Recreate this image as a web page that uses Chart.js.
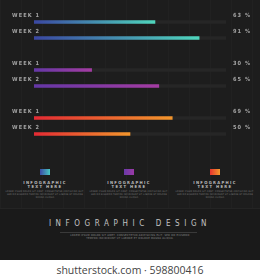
<!DOCTYPE html>
<html>
<head>
<meta charset="utf-8">
<script src="https://cdn.jsdelivr.net/npm/chart.js@4/dist/chart.umd.min.js"></script>
<style>
  html,body{margin:0;padding:0;}
  body{width:260px;height:280px;position:relative;overflow:hidden;background:#fff;font-family:"Liberation Sans Narrow","DejaVu Sans Condensed","Liberation Sans",sans-serif;}
  #dark{position:absolute;left:0;top:0;width:260px;height:260px;background:#1d1d1d;
    background-image:repeating-linear-gradient(90deg,rgba(255,255,255,0.018) 0 1px,transparent 1px 21px);}
  #chartBox{position:absolute;left:0;top:0;width:260px;height:150px;}
  .sw{position:absolute;top:169px;width:10px;height:6px;}
  .cap{position:absolute;width:80px;text-align:center;color:#b8b8b8;font-size:4.2px;line-height:3.8px;letter-spacing:1.3px;font-weight:bold;}
  .tiny{position:absolute;width:80px;text-align:center;color:#7a7a7a;font-size:2.3px;line-height:3px;letter-spacing:0.2px;}
  #sep{position:absolute;left:0;top:208px;width:260px;height:52px;background:#1a1a1a;border-top:1px solid #242424;}
  #title{position:absolute;left:0;top:219px;width:260px;text-align:center;color:#c2c2c2;font-size:8px;letter-spacing:4.6px;line-height:10px;}
  #tline{position:absolute;left:60px;top:232px;width:137px;height:1px;background:#3a3a3a;}
  #lorem{position:absolute;left:70px;top:234px;width:120px;text-align:center;color:#8a8a8a;font-size:2.7px;line-height:3.1px;letter-spacing:0.25px;}
  #footer{position:absolute;left:0;top:260px;width:260px;height:20px;background:#fff;text-align:center;font-family:"Open Sans","Noto Sans",sans-serif;font-size:10.5px;font-weight:400;line-height:21px;color:#444;}
</style>
</head>
<body>
<div id="dark"></div>
<div id="sep"></div>
<div id="chartBox"><canvas id="c"></canvas></div>

<div class="sw" style="left:40px;background:linear-gradient(90deg,#3b4ba6,#47c7c0);"></div>
<div class="sw" style="left:124px;background:linear-gradient(90deg,#6a3aa8,#9b3aa6);"></div>
<div class="sw" style="left:210px;background:linear-gradient(90deg,#e8342e,#f29a2c);"></div>

<div class="cap" style="left:5px;top:181px;">INFOGRAPHIC<br>TEXT HERE</div>
<div class="cap" style="left:89px;top:181px;">INFOGRAPHIC<br>TEXT HERE</div>
<div class="cap" style="left:175px;top:181px;">INFOGRAPHIC<br>TEXT HERE</div>

<div class="tiny" style="left:5px;top:190px;">LOREM IPSUM DOLOR SIT AMET, CONSECTETUR ADIPISCING ELIT, SED DO EIUSMOD TEMPOR INCIDIDUNT UT LABORE ET DOLORE MAGNA ALIQUA</div>
<div class="tiny" style="left:89px;top:190px;">LOREM IPSUM DOLOR SIT AMET, CONSECTETUR ADIPISCING ELIT, SED DO EIUSMOD TEMPOR INCIDIDUNT UT LABORE ET DOLORE MAGNA ALIQUA</div>
<div class="tiny" style="left:175px;top:190px;">LOREM IPSUM DOLOR SIT AMET, CONSECTETUR ADIPISCING ELIT, SED DO EIUSMOD TEMPOR INCIDIDUNT UT LABORE ET DOLORE MAGNA ALIQUA</div>

<div id="title">INFOGRAPHIC DESIGN</div>
<div id="tline"></div>
<div id="lorem">LOREM IPSUM DOLOR SIT AMET, CONSECTETUR ADIPISCING ELIT, SED DO EIUSMOD TEMPOR INCIDIDUNT UT LABORE ET DOLORE MAGNA ALIQUA.</div>
<div id="footer">shutterstock.com · 598800416</div>

<script>
// ---- data ----
const categories    = ['WEEK 1','WEEK 2','','WEEK 1','WEEK 2','','WEEK 1','WEEK 2'];
const values        = [63, 86, null, 30, 65, null, 72, 50];
const percentLabels = ['63 %','91 %','','30 %','65 %','','69 %','50 %'];
const trackMax      = [100, 100, null, 100, 100, null, 100, 100];
const groupOf       = [0, 0, null, 1, 1, null, 2, 2];

// ---- styles ----
const palette = [
  ['#3a47a2', '#4fd6bd'],
  ['#6437a6', '#a43ca2'],
  ['#e42a33', '#f3962c']
];

function barGradient(ctx) {
  const chart = ctx.chart;
  const i = ctx.dataIndex;
  const g = groupOf[i];
  if (g === null || g === undefined) return 'transparent';
  const xs = chart.scales && chart.scales.x;
  if (!xs || !chart.chartArea) return palette[g][0];
  const x0 = xs.getPixelForValue(0);
  const x1 = xs.getPixelForValue(values[i]);
  if (!isFinite(x0) || !isFinite(x1) || x1 <= x0) return palette[g][0];
  const grad = chart.ctx.createLinearGradient(x0, 0, x1, 0);
  grad.addColorStop(0, palette[g][0]);
  grad.addColorStop(1, palette[g][1]);
  return grad;
}

const labelPlugin = {
  id: 'rowLabels',
  afterDatasetsDraw(chart) {
    const c = chart.ctx;
    const ys = chart.scales.y;
    c.save();
    c.font = 'bold 5.6px "Liberation Sans Narrow","DejaVu Sans Condensed",sans-serif';
    c.fillStyle = '#a3a3a3';
    c.textBaseline = 'middle';
    if ('letterSpacing' in c) c.letterSpacing = '1.1px';
    categories.forEach((lab, i) => {
      if (!lab) return;
      const y = ys.getPixelForValue(i) - 6;
      c.textAlign = 'left';
      c.fillText(lab, 12, y);
      c.fillText(percentLabels[i], 233, y);
    });
    c.restore();
  }
};

new Chart(document.getElementById('c'), {
  type: 'bar',
  data: {
    labels: categories,
    datasets: [
      {
        label: 'progress',
        data: values,
        backgroundColor: barGradient,
        barThickness: 3,
        grouped: false,
        order: 0
      },
      {
        label: 'track',
        data: trackMax,
        backgroundColor: '#262626',
        barThickness: 3,
        grouped: false,
        order: 1
      }
    ]
  },
  options: {
    indexAxis: 'y',
    responsive: true,
    maintainAspectRatio: false,
    animation: false,
    layout: { padding: { left: 34, right: 34, top: 14, bottom: 8 } },
    scales: {
      x: { display: false, min: 0, max: 100 },
      y: { display: false }
    },
    plugins: { legend: { display: false }, tooltip: { enabled: false } }
  },
  plugins: [labelPlugin]
});
</script>
</body>
</html>
